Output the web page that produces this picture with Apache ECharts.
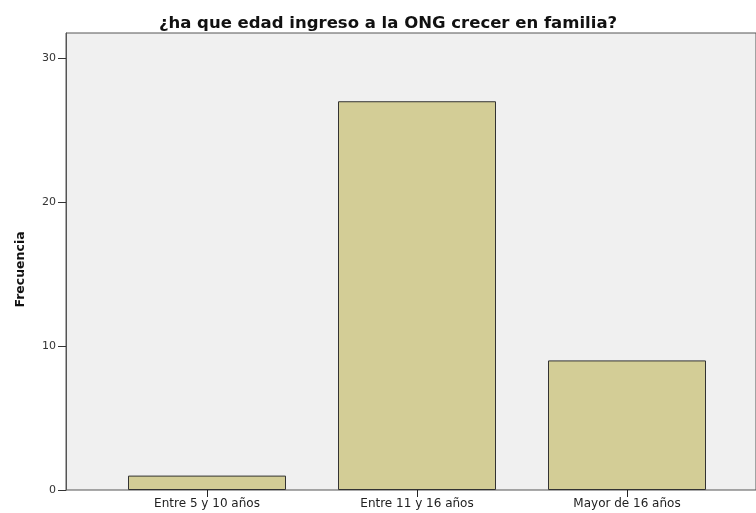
<!DOCTYPE html>
<html>
<head>
<meta charset="utf-8">
<script src="https://cdn.jsdelivr.net/npm/echarts@6/dist/echarts.min.js"></script>
<style>
  html, body { margin: 0; padding: 0; background: #ffffff; }
  #chart { width: 756px; height: 513px; }
</style>
</head>
<body>
<div id="chart"></div>
<script>
const title = '¿ha que edad ingreso a la ONG crecer en familia?';
const categories = ['Entre 5 y 10 años', 'Entre 11 y 16 años', 'Mayor de 16 años'];
const frecuencia = [1, 27, 9];
const yTicks = [0, 10, 20, 30];

const font = '"DejaVu Sans", Verdana, sans-serif';
const chart = echarts.init(document.getElementById('chart'));

chart.setOption({
  backgroundColor: '#ffffff',
  animation: false,
  title: {
    text: title,
    left: 383,
    textAlign: 'center',
    top: 10,
    textStyle: { fontFamily: font, fontSize: 16.5, fontWeight: 'bold', color: '#111' }
  },
  grid: [
    // background frame, runs past the right edge like the original
    { left: 66, right: -6, top: 33, bottom: 23, show: true, backgroundColor: '#f0f0f0', borderColor: '#555', borderWidth: 1 },
    // bars
    { left: 102, right: 24, top: 33, bottom: 23 }
  ],
  xAxis: [
    { gridIndex: 0, type: 'value', show: false, min: 0, max: 1 },
    {
      gridIndex: 1,
      type: 'category',
      data: categories,
      axisLine: { show: false },
      axisTick: { show: true, alignWithLabel: true, length: 7, lineStyle: { color: '#222', width: 1 } },
      axisLabel: { fontFamily: font, fontSize: 12, color: '#222', margin: 8 }
    }
  ],
  yAxis: [
    { gridIndex: 0, type: 'value', show: false, min: 0, max: 1 },
    {
      gridIndex: 1,
      type: 'value',
      min: 0,
      max: 31.74,
      interval: 10,
      offset: 36,
      name: 'Frecuencia',
      nameLocation: 'middle',
      nameGap: 39,
      nameTextStyle: { fontFamily: font, fontSize: 12.5, fontWeight: 'bold', color: '#111', padding: [0, 16, 0, 0] },
      axisLine: { show: true, lineStyle: { color: '#555', width: 1 } },
      axisTick: { show: true, length: 8, customValues: yTicks, lineStyle: { color: '#333' } },
      axisLabel: {
        fontFamily: font, fontSize: 11, color: '#333', margin: 10,
        customValues: yTicks
      },
      splitLine: { show: false }
    }
  ],
  series: [{
    type: 'bar',
    xAxisIndex: 1,
    yAxisIndex: 1,
    data: frecuencia,
    barWidth: 158,
    itemStyle: { color: '#d3cd96', borderColor: '#333', borderWidth: 1 }
  }]
});
</script>
</body>
</html>
